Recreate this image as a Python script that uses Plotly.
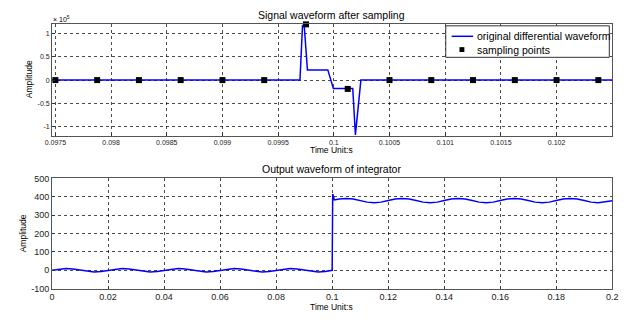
import plotly.graph_objects as go

# ---------------- data: top plot (amplitude in units of 1e5) ----------------
t_orig = [0.09747, 0.099696, 0.099719, 0.099734, 0.099763, 0.099946, 0.099996,
          0.100170, 0.100194, 0.100243, 0.1025]
v_orig = [0, 0, 1.18, 1.18, 0.22, 0.22, -0.18, -0.18, -1.18, 0, 0]

t_samp = [0.0975, 0.097875, 0.09825, 0.098625, 0.099, 0.099375, 0.09975,
          0.100125, 0.1005, 0.100875, 0.10125, 0.101625, 0.102, 0.102375]
v_samp = [0, 0, 0, 0, 0, 0, 1.2, -0.19, 0, 0, 0, 0, 0, 0]

top_xticks = [0.0975, 0.098, 0.0985, 0.099, 0.0995, 0.1, 0.1005, 0.101, 0.1015, 0.102]
top_xlabels = ["0.0975", "0.098", "0.0985", "0.099", "0.0995", "0.1", "0.1005", "0.101", "0.1015", "0.102"]
top_yticks = [-1, -0.5, 0, 0.5, 1]
top_ylabels = ["-1", "-0.5", "0", "0.5", "1"]

legend_names = ["original differential waveform", "sampling points"]

# ---------------- data: bottom plot (integrator output) ----------------
t_out = [0.0, 0.0025, 0.005, 0.0075, 0.01, 0.0125, 0.015, 0.0175,
         0.02, 0.0225, 0.025, 0.0275, 0.03, 0.0325, 0.035, 0.0375,
         0.04, 0.0425, 0.045, 0.0475, 0.05, 0.0525, 0.055, 0.0575,
         0.06, 0.0625, 0.065, 0.0675, 0.07, 0.0725, 0.075, 0.0775,
         0.08, 0.0825, 0.085, 0.0875, 0.09, 0.0925, 0.095, 0.0975,
         0.1, 0.1002, 0.1008, 0.1025, 0.105, 0.1075,
         0.11, 0.1125, 0.115, 0.1175, 0.12, 0.1225, 0.125, 0.1275,
         0.13, 0.1325, 0.135, 0.1375, 0.14, 0.1425, 0.145, 0.1475,
         0.15, 0.1525, 0.155, 0.1575, 0.16, 0.1625, 0.165, 0.1675,
         0.17, 0.1725, 0.175, 0.1775, 0.18, 0.1825, 0.185, 0.1875,
         0.19, 0.1925, 0.195, 0.1975, 0.2]
v_out = [0, 7, 10, 7, 0, -7, -10, -7,
         0, 7, 10, 7, 0, -7, -10, -7,
         0, 7, 10, 7, 0, -7, -10, -7,
         0, 7, 10, 7, 0, -7, -10, -7,
         0, 7, 10, 7, 0, -7, -10, -7,
         0, 415, 383, 388, 391, 388,
         380, 371, 368, 371, 380, 388, 391, 388,
         380, 371, 368, 371, 380, 388, 391, 388,
         380, 371, 368, 371, 380, 388, 391, 388,
         380, 371, 368, 371, 380, 388, 391, 388,
         380, 371, 368, 371, 378]

bot_xticks = [0, 0.02, 0.04, 0.06, 0.08, 0.1, 0.12, 0.14, 0.16, 0.18, 0.2]
bot_xlabels = ["0", "0.02", "0.04", "0.06", "0.08", "0.1", "0.12", "0.14", "0.16", "0.18", "0.2"]
bot_yticks = [-100, 0, 100, 200, 300, 400, 500]
bot_ylabels = ["-100", "0", "100", "200", "300", "400", "500"]

FONT = "Liberation Sans, Arial, sans-serif"
W, H = 630, 322
BLUE = "#0000FF"

fig = go.Figure()
fig.add_trace(go.Scatter(x=t_orig, y=v_orig, mode="lines", name=legend_names[0], showlegend=False,
                         line=dict(color=BLUE, width=1.5), xaxis="x", yaxis="y"))
fig.add_trace(go.Scatter(x=t_samp, y=v_samp, mode="markers", name=legend_names[1], showlegend=False,
                         cliponaxis=False,
                         marker=dict(symbol="square", color="black", size=6), xaxis="x", yaxis="y"))
fig.add_trace(go.Scatter(x=t_out, y=v_out, mode="lines", showlegend=False,
                         line=dict(color=BLUE, width=1.5), xaxis="x2", yaxis="y2"))

axis_common = dict(showline=True, mirror=True, linecolor="#555555", linewidth=1,
                   ticks="inside", ticklen=3, tickcolor="#333333",
                   showgrid=True, gridcolor="rgba(0,0,0,0.7)", griddash="dot", gridwidth=1,
                   zeroline=False)

def tf(size):
    return dict(family=FONT, size=size, color="#222222")

xd = [46 / W, 618 / W]
fig.update_layout(
    width=W, height=H, margin=dict(l=0, r=0, t=0, b=0),
    paper_bgcolor="white", plot_bgcolor="white",
    xaxis=dict(domain=xd, anchor="y", range=[0.09747, 0.1025], tickvals=top_xticks,
               ticktext=top_xlabels, tickfont=tf(7), **axis_common),
    yaxis=dict(domain=[1 - 135 / H, 1 - 20 / H], anchor="x", range=[-1.2, 1.2], tickvals=top_yticks,
               ticktext=top_ylabels, tickfont=tf(7), **axis_common),
    xaxis2=dict(domain=xd, anchor="y2", range=[0, 0.2], tickvals=bot_xticks,
                ticktext=bot_xlabels, tickfont=tf(9), **axis_common),
    yaxis2=dict(domain=[1 - 292.7 / H, 1 - 179 / H], anchor="x2", range=[-100, 500], tickvals=bot_yticks,
                ticktext=bot_ylabels, tickfont=tf(9), **axis_common),
    showlegend=False,
)

def ann(text, x, y, size, angle=0, xanchor="center"):
    fig.add_annotation(text=text, x=x / W, y=1 - y / H, xref="paper", yref="paper",
                       showarrow=False, font=dict(family=FONT, size=size, color="black"),
                       textangle=angle, xanchor=xanchor, yanchor="middle")

ann("Signal waveform after sampling", 331, 10, 10.5)
ann("Time Unit:s", 331, 150, 8.5)
ann("Amplitude", 22, 77, 8.5, angle=-90)
ann("× 10<sup>5</sup>", 45, 14, 7, xanchor="left")
ann("Output waveform of integrator", 331, 169, 10.5)
ann("Time Unit:s", 331, 312, 8.5)
ann("Amplitude", 16, 236, 8.5, angle=-90)

# hand-drawn legend box (MATLAB style, compact rows)
def px(x):
    return x / W

def py(y):
    return 1 - y / H

fig.add_shape(type="rect", xref="paper", yref="paper", x0=px(448), x1=px(615), y0=py(54), y1=py(21.5),
              line=dict(color="#333333", width=1), fillcolor="white", layer="above")
fig.add_shape(type="line", xref="paper", yref="paper", x0=px(454), x1=px(476), y0=py(32.3), y1=py(32.3),
              line=dict(color=BLUE, width=1.5), layer="above")
fig.add_shape(type="rect", xref="paper", yref="paper", x0=px(462), x1=px(467), y0=py(48.5), y1=py(43.5),
              line=dict(color="black", width=0), fillcolor="black", layer="above")
ann(legend_names[0], 478, 32.3, 10.5, xanchor="left")
ann(legend_names[1], 478, 46, 10.5, xanchor="left")

fig.write_html("out.html", config={"displayModeBar": False},
               post_script="document.body.style.margin='0px';document.body.style.padding='0px';")
